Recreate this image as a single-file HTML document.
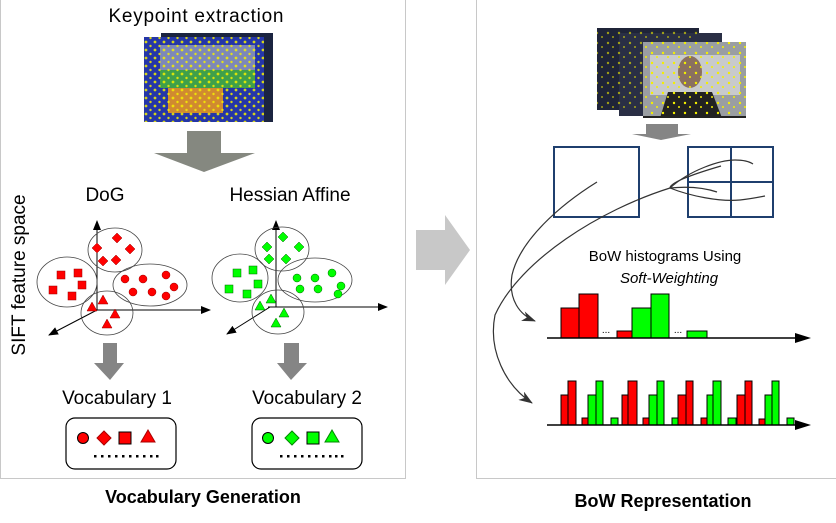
<!DOCTYPE html>
<html><head><meta charset="utf-8"><style>
html,body{margin:0;padding:0;background:#fff;}
svg{display:block;font-family:"Liberation Sans",Arial,sans-serif;}
</style></head><body>
<svg width="836" height="523" viewBox="0 0 836 523" xmlns="http://www.w3.org/2000/svg">
<defs>
<pattern id="dots" width="9" height="8" patternUnits="userSpaceOnUse">
<circle cx="2" cy="2" r="1.4" fill="#f4f000"/><circle cx="6.5" cy="6" r="1.2" fill="#f4f000"/>
</pattern>
<pattern id="dots2" width="11" height="10" patternUnits="userSpaceOnUse">
<circle cx="3" cy="3" r="1.2" fill="#f4f000"/><circle cx="8" cy="7" r="1" fill="#f4f000"/>
</pattern>
<marker id="ah" markerWidth="10" markerHeight="8" refX="9" refY="4" orient="auto" markerUnits="userSpaceOnUse"><path d="M0,0 L10,4 L0,8 Z" fill="#000"/></marker>
<marker id="ah2" markerWidth="14" markerHeight="10" refX="13" refY="5" orient="auto" markerUnits="userSpaceOnUse"><path d="M0,0 L14,5 L0,10 L4,5 Z" fill="#333"/></marker>
</defs>
<rect x="0.5" y="-1" width="405" height="479.5" fill="none" stroke="#c8c8c8"/>
<rect x="476.5" y="-1" width="365" height="479.5" fill="none" stroke="#c8c8c8"/>
<path d="M416,230 L445,230 L445,215 L470,250 L445,285 L445,270 L416,270 Z" fill="#c8c8c8"/>

<text x="196" y="22" font-size="19" text-anchor="middle" textLength="175">Keypoint extraction</text>
<rect x="161" y="33" width="112" height="89" fill="#1b2440"/>
<rect x="144" y="37" width="120" height="85" fill="#2536a8"/>
<rect x="160" y="45" width="95" height="25" fill="#7d88b8"/>
<rect x="160" y="70" width="95" height="18" fill="#3fa04a"/>
<rect x="168" y="88" width="55" height="25" fill="#d08a30"/>
<rect x="144" y="37" width="120" height="85" fill="url(#dots)" opacity="0.85"/>
<path d="M187,131 L221,131 L221,153 L255,153 L204,172 L154,153 L187,153 Z" fill="#858880"/>

<text transform="translate(25,275) rotate(-90)" font-size="19" text-anchor="middle">SIFT feature space</text>
<text x="105" y="201" font-size="19" text-anchor="middle">DoG</text>
<text x="290" y="201" font-size="19" text-anchor="middle">Hessian Affine</text>

<g stroke="#000" stroke-width="1" fill="none">
<line x1="97" y1="310" x2="97" y2="221" marker-end="url(#ah)"/>
<line x1="97" y1="310" x2="210" y2="310" marker-end="url(#ah)"/>
<line x1="97" y1="310" x2="49" y2="335" marker-end="url(#ah)"/>
<line x1="276" y1="307" x2="276" y2="221" marker-end="url(#ah)"/>
<line x1="268" y1="307" x2="387" y2="307" marker-end="url(#ah)"/>
<line x1="270" y1="307" x2="227" y2="334" marker-end="url(#ah)"/>
</g>
<g fill="none" stroke="#444" stroke-width="0.8">
<ellipse cx="115" cy="250" rx="27" ry="22"/><ellipse cx="67" cy="282" rx="30" ry="25"/>
<ellipse cx="150" cy="285" rx="37" ry="21"/><ellipse cx="107" cy="313" rx="26" ry="22"/>
<ellipse cx="282" cy="249" rx="27" ry="22"/><ellipse cx="240" cy="278" rx="28" ry="24"/>
<ellipse cx="315" cy="280" rx="37" ry="22"/><ellipse cx="278" cy="312" rx="26" ry="22"/>
</g>
<g fill="#f00" stroke="#900" stroke-width="0.5">
<path d="M117,233l5,5l-5,5l-5,-5z M97,243l5,5l-5,5l-5,-5z M130,244l5,5l-5,5l-5,-5z M103,256l5,5l-5,5l-5,-5z M116,255l5,5l-5,5l-5,-5z"/>
<rect x="57" y="271" width="8" height="8"/><rect x="74" y="269" width="8" height="8"/><rect x="78" y="281" width="8" height="8"/><rect x="49" y="286" width="8" height="8"/><rect x="68" y="292" width="8" height="8"/>
<circle cx="125" cy="279" r="4"/><circle cx="143" cy="279" r="4"/><circle cx="166" cy="275" r="4"/><circle cx="133" cy="292" r="4"/><circle cx="152" cy="292" r="4"/><circle cx="174" cy="287" r="4"/><circle cx="166" cy="296" r="4"/>
<path d="M103,295l5,9h-10z M92,302l5,9h-10z M115,309l5,9h-10z M107,319l5,9h-10z"/>
</g>
<g fill="#0f0" stroke="#060" stroke-width="0.5">
<path d="M283,232l5,5l-5,5l-5,-5z M267,242l5,5l-5,5l-5,-5z M299,242l5,5l-5,5l-5,-5z M269,254l5,5l-5,5l-5,-5z M286,254l5,5l-5,5l-5,-5z"/>
<rect x="233" y="269" width="8" height="8"/><rect x="249" y="266" width="8" height="8"/><rect x="254" y="280" width="8" height="8"/><rect x="225" y="285" width="8" height="8"/><rect x="243" y="290" width="8" height="8"/>
<circle cx="297" cy="278" r="4"/><circle cx="315" cy="278" r="4"/><circle cx="332" cy="273" r="4"/><circle cx="300" cy="289" r="4"/><circle cx="318" cy="289" r="4"/><circle cx="341" cy="286" r="4"/><circle cx="338" cy="294" r="4"/>
<path d="M271,294l5,9h-10z M260,301l5,9h-10z M284,308l5,9h-10z M276,318l5,9h-10z"/>
</g>
<path d="M103,343 L117,343 L117,363 L124,363 L110,380 L94,363 L103,363 Z" fill="#858585"/>
<path d="M284,343 L299,343 L299,363 L307,363 L291,380 L277,363 L284,363 Z" fill="#858585"/>
<text x="117" y="404" font-size="19" text-anchor="middle">Vocabulary 1</text>
<text x="307" y="404" font-size="19" text-anchor="middle">Vocabulary 2</text>
<rect x="66" y="418" width="110" height="51" rx="9" fill="#fff" stroke="#000" stroke-width="1.2"/>
<rect x="252" y="418" width="110" height="51" rx="9" fill="#fff" stroke="#000" stroke-width="1.2"/>
<g stroke="#000" stroke-width="1">
<circle cx="83" cy="438" r="5.5" fill="#f00"/><path d="M104,431l7,7l-7,7l-7,-7z" fill="#f00" stroke="#a00"/><rect x="119" y="432" width="12" height="12" fill="#f00"/><path d="M148,430l7,12h-14z" fill="#f00" stroke="#a00"/>
<circle cx="268" cy="438" r="5.5" fill="#0f0"/><path d="M292,431l7,7l-7,7l-7,-7z" fill="#0f0" stroke="#080"/><rect x="307" y="432" width="12" height="12" fill="#0f0"/><path d="M332,430l7,12h-14z" fill="#0f0" stroke="#080"/>
</g>
<g fill="#000">
<rect x="94" y="455" width="2.5" height="2.5"/><rect x="101" y="455" width="2.5" height="2.5"/><rect x="108" y="455" width="2.5" height="2.5"/><rect x="115" y="455" width="2.5" height="2.5"/><rect x="122" y="455" width="2.5" height="2.5"/><rect x="129" y="455" width="2.5" height="2.5"/><rect x="136" y="455" width="2.5" height="2.5"/><rect x="143" y="455" width="2.5" height="2.5"/><rect x="150" y="455" width="2.5" height="2.5"/><rect x="156" y="455" width="2.5" height="2.5"/>
<rect x="280" y="455" width="2.5" height="2.5"/><rect x="287" y="455" width="2.5" height="2.5"/><rect x="294" y="455" width="2.5" height="2.5"/><rect x="301" y="455" width="2.5" height="2.5"/><rect x="308" y="455" width="2.5" height="2.5"/><rect x="315" y="455" width="2.5" height="2.5"/><rect x="322" y="455" width="2.5" height="2.5"/><rect x="329" y="455" width="2.5" height="2.5"/><rect x="335" y="455" width="2.5" height="2.5"/><rect x="341" y="455" width="2.5" height="2.5"/>
</g>
<text x="203" y="503" font-size="18" font-weight="bold" text-anchor="middle">Vocabulary Generation</text>
<text x="663" y="507" font-size="18" font-weight="bold" text-anchor="middle">BoW Representation</text>

<rect x="597" y="28" width="102" height="82" fill="#1f2438"/>
<rect x="619" y="33" width="103" height="83" fill="#2a2f45"/>
<rect x="597" y="28" width="102" height="82" fill="url(#dots2)" opacity="0.6"/>
<rect x="643" y="42" width="103" height="76" fill="#9a9ea2"/>
<rect x="650" y="55" width="90" height="40" fill="#c8cacc"/>
<ellipse cx="690" cy="72" rx="12" ry="16" fill="#8a7060"/>
<path d="M660,118 L668,92 L712,92 L722,118 Z" fill="#222"/>
<rect x="643" y="42" width="103" height="76" fill="url(#dots2)"/>
<rect x="643" y="116" width="103" height="2" fill="#222"/>
<path d="M646,124 L678,124 L678,134 L691,134 L661,140 L632,134 L646,134 Z" fill="#858585"/>
<g fill="none" stroke="#1f3f6e" stroke-width="2">
<rect x="554" y="147" width="85" height="70"/>
<rect x="688" y="147" width="85" height="70"/>
<line x1="731" y1="147" x2="731" y2="217"/><line x1="688" y1="182" x2="773" y2="182"/>
</g>
<g fill="none" stroke="#333" stroke-width="1.2">
<path d="M597,182 C560,205 520,240 512,275 C508,300 520,315 535,321" marker-end="url(#ah2)"/>
<path d="M721,166 C690,175 670,183 670,188 C600,210 520,260 495,315 C488,350 505,385 532,403" marker-end="url(#ah2)"/>
<path d="M670,188 C690,170 720,160 735,160 C745,160 750,162 753,164"/>
<path d="M670,188 C690,186 705,188 717,192"/>
<path d="M670,188 C690,196 720,202 740,200 C750,199 760,197 765,196"/>
</g>
<text x="665" y="261" font-size="15" text-anchor="middle">BoW histograms Using</text>
<text x="669" y="283" font-size="15" font-style="italic" text-anchor="middle">Soft-Weighting</text>
<g stroke="#000" stroke-width="1">
<rect x="561" y="308" width="18" height="30" fill="#f00"/><rect x="579" y="294" width="19" height="44" fill="#f00"/>
<rect x="617" y="331" width="15" height="7" fill="#f00"/>
<rect x="632" y="308" width="19" height="30" fill="#0f0"/><rect x="651" y="294" width="18" height="44" fill="#0f0"/>
<rect x="687" y="331" width="20" height="7" fill="#0f0"/>
</g>
<text x="606" y="333" font-size="10" text-anchor="middle">...</text>
<text x="678" y="333" font-size="10" text-anchor="middle">...</text>
<line x1="547" y1="338" x2="800" y2="338" stroke="#000" stroke-width="1.5"/>
<path d="M795,333 L811,338 L795,343 Z" fill="#000"/>
<g stroke="#000" stroke-width="1">
<rect x="561" y="395" width="7" height="30" fill="#f00"/><rect x="568" y="381" width="8" height="44" fill="#f00"/>
<rect x="582" y="418" width="6" height="7" fill="#f00"/><rect x="588" y="395" width="8" height="30" fill="#0f0"/><rect x="596" y="381" width="7" height="44" fill="#0f0"/>
<rect x="611" y="418" width="7" height="7" fill="#0f0"/><rect x="622" y="395" width="6" height="30" fill="#f00"/><rect x="628" y="381" width="9" height="44" fill="#f00"/>
<rect x="643" y="418" width="6" height="7" fill="#f00"/><rect x="649" y="395" width="8" height="30" fill="#0f0"/><rect x="657" y="381" width="7" height="44" fill="#0f0"/>
<rect x="672" y="418" width="6" height="7" fill="#0f0"/><rect x="678" y="395" width="8" height="30" fill="#f00"/><rect x="686" y="381" width="7" height="44" fill="#f00"/>
<rect x="701" y="418" width="6" height="7" fill="#f00"/><rect x="707" y="395" width="6" height="30" fill="#0f0"/><rect x="713" y="381" width="8" height="44" fill="#0f0"/>
<rect x="728" y="418" width="8" height="7" fill="#0f0"/><rect x="737" y="395" width="8" height="30" fill="#f00"/><rect x="745" y="381" width="7" height="44" fill="#f00"/>
<rect x="759" y="419" width="6" height="6" fill="#f00"/><rect x="765" y="395" width="7" height="30" fill="#0f0"/><rect x="772" y="381" width="7" height="44" fill="#0f0"/>
<rect x="787" y="418" width="7" height="7" fill="#0f0"/>
</g>
<line x1="547" y1="425" x2="800" y2="425" stroke="#000" stroke-width="1.5"/>
<path d="M795,420 L811,425 L795,430 Z" fill="#000"/>
</svg>
</body></html>
